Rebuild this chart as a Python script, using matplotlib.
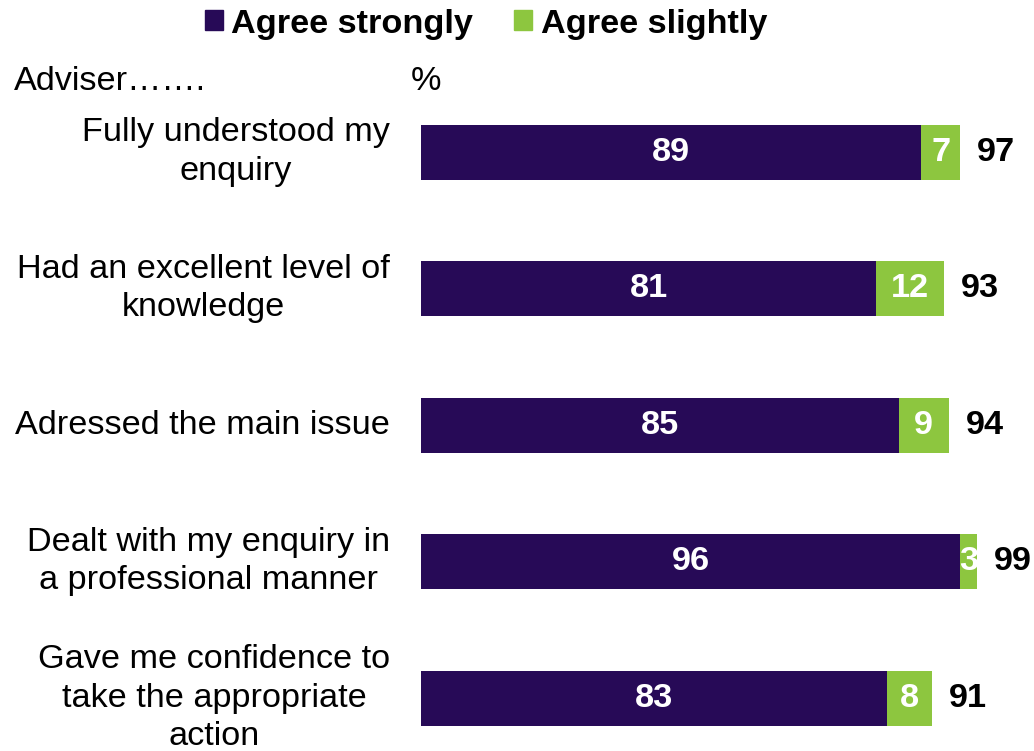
import matplotlib.pyplot as plt
from matplotlib.patches import Patch

plt.rcParams['font.family'] = ['Liberation Sans', 'DejaVu Sans']

categories = ['Fully understood my\nenquiry',
              'Had an excellent level of\nknowledge',
              'Adressed the main issue',
              'Dealt with my enquiry in\na professional manner',
              'Gave me confidence to\ntake the appropriate\naction']
strongly = [89, 81, 85, 96, 83]
slightly = [7, 12, 9, 3, 8]
totals = [97, 93, 94, 99, 91]

purple = '#270a57'
green = '#8dc63f'
fs = 24.7

fig = plt.figure(figsize=(10.34, 7.51), dpi=100)
ax = fig.add_axes([421 / 1034, 0, 1 - 421 / 1034, 1])

y = list(range(len(categories)))
ax.barh(y, strongly, height=0.403, color=purple)
ax.barh(y, slightly, left=strongly, height=0.403, color=green)

for i in y:
    ax.text(strongly[i] / 2, i, str(strongly[i]), color='white', fontsize=fs,
            fontweight='bold', ha='center', va='center')
    ax.text(strongly[i] + slightly[i] / 2, i, str(slightly[i]), color='white',
            fontsize=fs, fontweight='bold', ha='center', va='center')
    ax.text(strongly[i] + slightly[i] + 3, i, str(totals[i]), color='black',
            fontsize=fs, fontweight='bold', ha='left', va='center')
    ax.text(-5.5, i, categories[i], fontsize=fs, ha='right', va='center',
            multialignment='center', linespacing=1.32)

ax.set_xlim(0, 109.1)
ax.set_ylim(4.388, -1.1136)
ax.axis('off')

fig.text(14 / 1034, 1 - 82 / 751, 'Adviser…….', fontsize=fs, ha='left', va='center')
fig.text(426 / 1034, 1 - 82 / 751, '%', fontsize=fs, ha='center', va='center')

handles = [Patch(color=purple, label='Agree strongly'),
           Patch(color=green, label='Agree slightly')]
fig.legend(handles=handles, loc='center', bbox_to_anchor=(486 / 1034, 1 - 24 / 751),
           ncol=2, frameon=False, handlelength=0.52, handleheight=0.52,
           handletextpad=0.25, columnspacing=1.2,
           prop={'size': fs, 'weight': 'bold'})

fig.savefig('out.png', dpi=100)
